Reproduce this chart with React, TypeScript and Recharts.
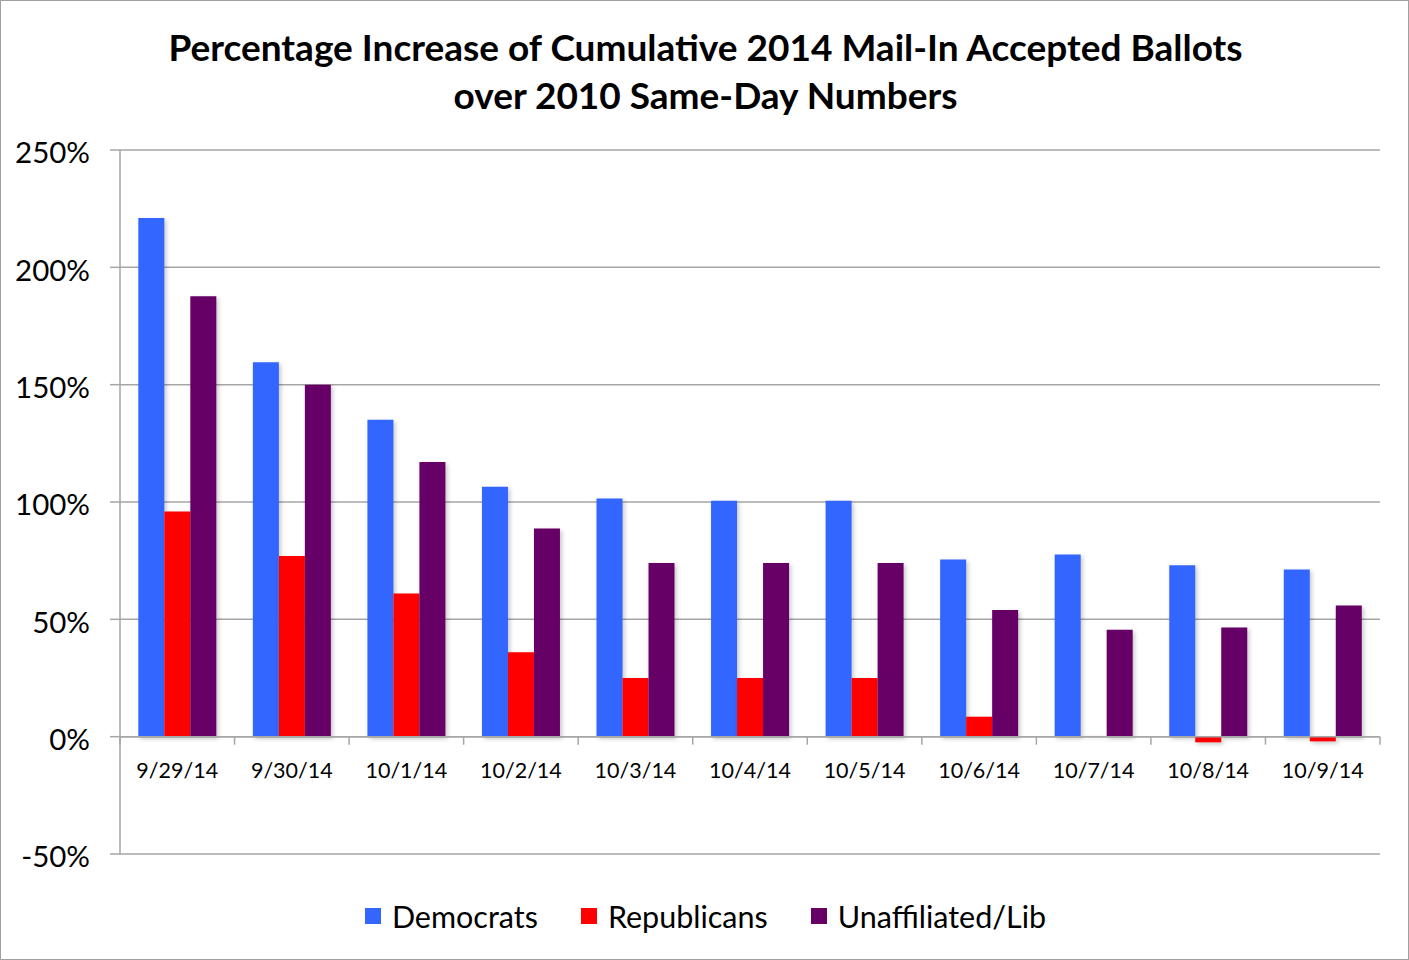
import React from "react";
import {
  BarChart,
  Bar,
  XAxis,
  YAxis,
  CartesianGrid,
  ReferenceLine,
  Rectangle,
} from "recharts";

const dates = [
  "9/29/14",
  "9/30/14",
  "10/1/14",
  "10/2/14",
  "10/3/14",
  "10/4/14",
  "10/5/14",
  "10/6/14",
  "10/7/14",
  "10/8/14",
  "10/9/14",
];
const democrats = [221, 159.5, 135, 106.5, 101.5, 100.5, 100.5, 75.5, 77.6, 73, 71.2];
const republicans = [96, 77, 61, 36, 25, 25, 25, 8.5, 0.3, -2.4, -2];
const unaffiliated = [187.7, 150, 117, 88.7, 74, 74, 74, 54, 45.6, 46.5, 55.9];
const yTicks = [-50, 0, 50, 100, 150, 200, 250];

const series = [
  { key: "dem", name: "Democrats", color: "#3366FF" },
  { key: "rep", name: "Republicans", color: "#FF0000" },
  { key: "una", name: "Unaffiliated/Lib", color: "#660066" },
];

const data = dates.map((d, i) => ({
  date: d,
  dem: democrats[i],
  rep: republicans[i],
  una: unaffiliated[i],
}));

const W = 1409;
const H = 960;
const TOP = 150;
const BOTTOM = 854;
const LEFT = 120;
const RIGHT = 1380;
const ZERO_Y = TOP + ((BOTTOM - TOP) * 250) / 300;
const BAND = (RIGHT - LEFT) / dates.length;
const FONT = "Lato, 'Open Sans', sans-serif";
const GRID = "#a6a6a6";

function DateTick(props: any) {
  const { x, payload, index } = props;
  return (
    <g>
      <line x1={x - BAND / 2} x2={x - BAND / 2} y1={ZERO_Y} y2={ZERO_Y + 8} stroke={GRID} strokeWidth={1.5} />
      {index === dates.length - 1 && (
        <line x1={x + BAND / 2} x2={x + BAND / 2} y1={ZERO_Y} y2={ZERO_Y + 8} stroke={GRID} strokeWidth={1.5} />
      )}
      <text x={x} y={ZERO_Y + 41} textAnchor="middle" fontSize={21.5} fill="#000" fontFamily={FONT}>
        {payload.value}
      </text>
    </g>
  );
}

const shadowBar = (p: any) => (
  <Rectangle {...p} style={{ filter: "drop-shadow(2px 2px 2px rgba(0,0,0,0.22))" }} />
);

export default function App() {
  return (
    <div
      style={{
        position: "absolute",
        left: 0,
        top: 0,
        width: W,
        height: H,
        boxSizing: "border-box",
        border: "1px solid #a0a0a0",
        background: "#fff",
        fontFamily: FONT,
      }}
    >
      <div
        style={{
          position: "absolute",
          left: 0,
          top: 22,
          width: W,
          textAlign: "center",
          fontWeight: 700,
          fontSize: 37,
          lineHeight: "48px",
          color: "#000",
        }}
      >
        Percentage Increase of Cumulative 2014 Mail-In Accepted Ballots
        <br />
        over 2010 Same-Day Numbers
      </div>
      <div style={{ position: "absolute", left: -1, top: -1 }}>
        <BarChart
          width={W}
          height={H}
          data={data}
          margin={{ top: TOP, right: W - RIGHT, bottom: 0, left: 8 }}
          barGap={0}
          barCategoryGap="16%"
        >
          <CartesianGrid horizontal vertical={false} stroke={GRID} strokeWidth={1.5} />
          <XAxis
            dataKey="date"
            axisLine={false}
            tickLine={false}
            height={H - BOTTOM}
            interval={0}
            tick={<DateTick />}
          />
          <YAxis
            width={LEFT - 8}
            domain={[-50, 250]}
            ticks={yTicks}
            interval={0}
            tickFormatter={(v: number) => `${v}%`}
            axisLine={{ stroke: GRID, strokeWidth: 1.5 }}
            tickLine={{ stroke: GRID, strokeWidth: 1.5 }}
            tickSize={10}
            tickMargin={20}
            tick={{ fontSize: 29.5, fill: "#000", fontFamily: FONT, dy: 3 }}
          />
          <ReferenceLine y={0} stroke={GRID} strokeWidth={1.5} />
          {series.map((s) => (
            <Bar
              key={s.key}
              dataKey={s.key}
              name={s.name}
              fill={s.color}
              shape={shadowBar}
              isAnimationActive={false}
            />
          ))}
        </BarChart>
      </div>
      <div
        style={{
          position: "absolute",
          top: 895,
          left: 0,
          width: W,
          display: "flex",
          justifyContent: "center",
          gap: 43,
          fontSize: 30.5,
          lineHeight: "40px",
        }}
      >
        {series.map((s) => (
          <div key={s.key} style={{ display: "flex", alignItems: "center" }}>
            <span style={{ width: 16, height: 16, background: s.color, marginRight: 11, display: "inline-block" }} />
            {s.name}
          </div>
        ))}
      </div>
    </div>
  );
}
